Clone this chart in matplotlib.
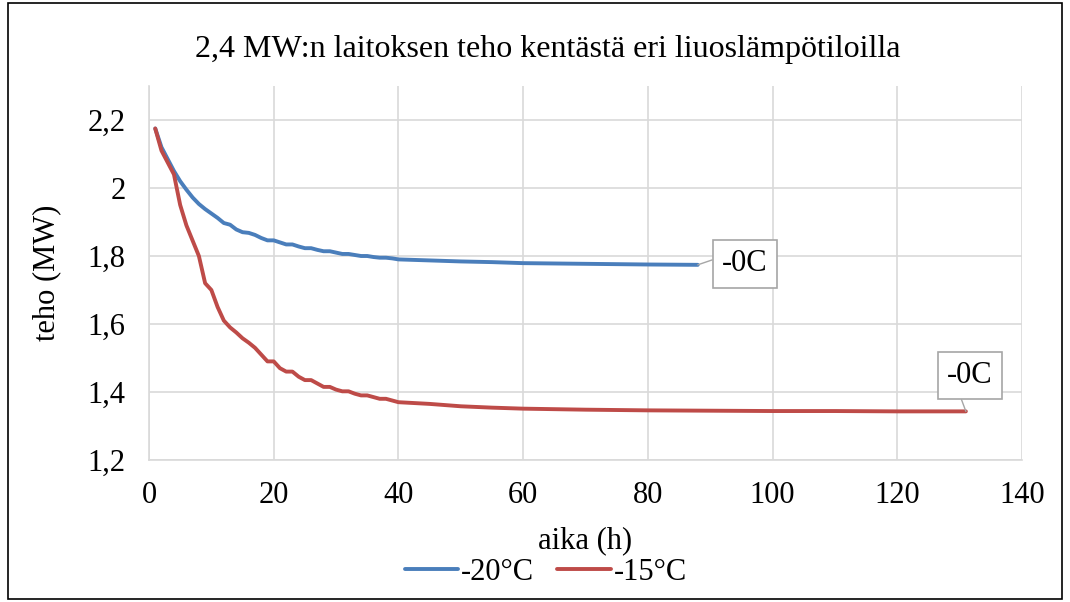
import matplotlib
matplotlib.use('Agg')
import matplotlib.pyplot as plt
from matplotlib.ticker import FuncFormatter, MultipleLocator
from matplotlib.patches import Rectangle

# Aika (h) ja teho (MW) kuvasta luettuina
aika_20 = list(range(1, 41)) + [45, 50, 55, 60, 65, 70, 75, 80, 88]
teho_20 = [2.175, 2.12, 2.085, 2.05, 2.02, 1.995, 1.972, 1.953, 1.938, 1.925,
           1.912, 1.897, 1.892, 1.878, 1.870, 1.868, 1.862, 1.853, 1.846, 1.846,
           1.840, 1.834, 1.834, 1.828, 1.823, 1.823, 1.818, 1.814, 1.814, 1.810,
           1.806, 1.806, 1.803, 1.800, 1.800, 1.797, 1.795, 1.795, 1.793, 1.790,
           1.787, 1.784, 1.782, 1.779, 1.778, 1.777, 1.776, 1.775, 1.774]

aika_15 = list(range(1, 41)) + [45, 50, 55, 60, 70, 80, 90, 100, 110, 120, 131]
teho_15 = [2.175, 2.11, 2.075, 2.04, 1.95, 1.89, 1.845, 1.80, 1.72, 1.70,
           1.65, 1.61, 1.59, 1.575, 1.558, 1.545, 1.53, 1.51, 1.49, 1.49,
           1.47, 1.46, 1.46, 1.445, 1.435, 1.435, 1.425, 1.415, 1.415, 1.407,
           1.402, 1.402, 1.395, 1.39, 1.39, 1.385, 1.38, 1.38, 1.375, 1.37,
           1.365, 1.358, 1.354, 1.351, 1.348, 1.346, 1.345, 1.344, 1.344, 1.343, 1.343]

sarjat = ['-20°C', '-15°C']
loppu_teksti = '-0C'

plt.rcParams['font.family'] = ['Liberation Serif', 'DejaVu Serif']
fs = 22

fig = plt.figure(figsize=(10.70, 6.02), dpi=100)
ax = fig.add_axes([149 / 1070, 142 / 602, 873 / 1070, 374 / 602])

# Kaavion reunus
fig.patches.append(Rectangle((8 / 1070, 3 / 602), 1054 / 1070, 596 / 602, transform=fig.transFigure,
                             fill=False, edgecolor='black', linewidth=1.2))

l1, = ax.plot(aika_20, teho_20, color='#4A7EBB', linewidth=2.8, solid_capstyle='round')
l2, = ax.plot(aika_15, teho_15, color='#BE4B48', linewidth=2.8, solid_capstyle='round')

ax.set_xlim(0, 140)
ax.set_ylim(1.2, 2.3)
ax.xaxis.set_major_locator(MultipleLocator(20))
ax.yaxis.set_major_locator(MultipleLocator(0.2))
ax.yaxis.set_major_formatter(FuncFormatter(lambda v, p: f'{v:g}'.replace('.', ',')))
ax.grid(True, color='#d9d9d9', linewidth=1.2)
ax.set_axisbelow(True)
ax.tick_params(length=0, labelsize=fs)
ax.tick_params(axis='y', pad=17)
ax.tick_params(axis='x', pad=15)
for s in ['top', 'right']:
    ax.spines[s].set_visible(False)
for s in ['left', 'bottom']:
    ax.spines[s].set_color('#d9d9d9')
    ax.spines[s].set_linewidth(1.2)

ax.set_xlabel('aika (h)', fontsize=fs, labelpad=12)
ax.set_ylabel('teho (MW)', fontsize=fs, labelpad=19)
fig.text(548 / 1070, 1 - 50 / 602, '2,4 MW:n laitoksen teho kentästä eri liuoslämpötiloilla',
         ha='center', va='center', fontsize=23)

# Datan otsikot sarjojen loppuun
laatikko = dict(boxstyle='square,pad=0.3', facecolor='white', edgecolor='#a6a6a6', linewidth=1.2)
ax.annotate(loppu_teksti, (aika_20[-1], teho_20[-1]), xytext=(47, 1), textcoords='offset pixels',
            ha='center', va='center', fontsize=fs, bbox=laatikko,
            arrowprops=dict(arrowstyle='-', color='#a6a6a6', relpos=(0, 0.75), shrinkA=0, shrinkB=0))
ax.annotate(loppu_teksti, (aika_15[-1], teho_15[-1]), xytext=(4, 36), textcoords='offset pixels',
            ha='center', va='center', fontsize=fs, bbox=laatikko,
            arrowprops=dict(arrowstyle='-', color='#a6a6a6', relpos=(0, 1), shrinkA=0, shrinkB=0))

fig.legend([l1, l2], sarjat, loc='center', bbox_to_anchor=(546 / 1070, 1 - 572 / 602), ncol=2,
           frameon=False, fontsize=fs, handlelength=1.75, handletextpad=0.1, columnspacing=0.75)

plt.savefig('out.png', dpi=100)
